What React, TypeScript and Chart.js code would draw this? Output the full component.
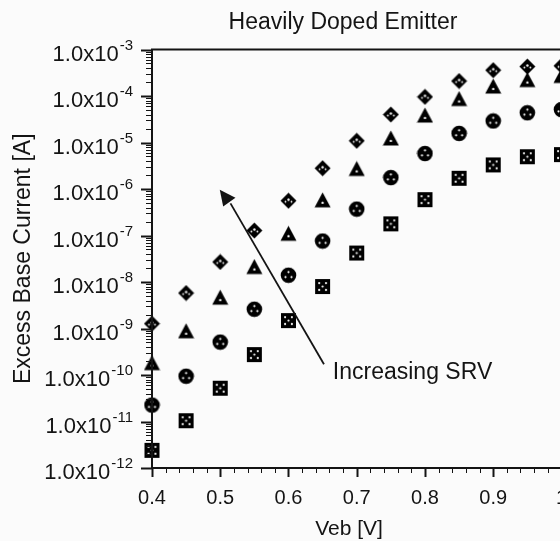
import React, { useEffect, useRef } from 'react';
import { Chart, registerables } from 'chart.js';

Chart.register(...registerables);

const FONT = '"Liberation Sans", Arial, Helvetica, sans-serif';
const INK = '#141414';
const BG = '#fbfbfb';
const CANVAS_W = 585;
const CANVAS_H = 541;

const chartTitle = 'Heavily Doped Emitter';
const xAxisTitle = 'Veb [V]';
const yAxisTitle = 'Excess Base Current [A]';
const annotationText = 'Increasing SRV';

// Emitter-base voltage (V)
const vebVolts = [0.4, 0.45, 0.5, 0.55, 0.6, 0.65, 0.7, 0.75, 0.8, 0.85, 0.9, 0.95, 1.0];

// Excess base current (A), highest SRV (top) to lowest SRV (bottom)
const srv4Current = [1.27e-9, 5.8e-9, 2.7e-8, 1.28e-7, 5.6e-7, 2.8e-6, 1.09e-5, 4.0e-5, 9.6e-5, 2.1e-4, 3.6e-4, 4.3e-4, 4.45e-4];
const srv3Current = [1.8e-10, 8.7e-10, 4.6e-9, 2.1e-8, 1.09e-7, 5.7e-7, 2.7e-6, 1.22e-5, 3.8e-5, 8.6e-5, 1.6e-4, 2.2e-4, 2.7e-4];
const srv2Current = [2.25e-11, 9.4e-11, 5.1e-10, 2.6e-9, 1.4e-8, 7.6e-8, 3.7e-7, 1.76e-6, 5.8e-6, 1.57e-5, 2.9e-5, 4.35e-5, 5.1e-5];
const srv1Current = [2.4e-12, 1.04e-11, 5.2e-11, 2.75e-10, 1.48e-9, 8.0e-9, 4.2e-8, 1.78e-7, 5.9e-7, 1.7e-6, 3.3e-6, 4.95e-6, 5.5e-6];

const xTickValues = [0.4, 0.5, 0.6, 0.7, 0.8, 0.9, 1.0];
const xTickLabels = ['0.4', '0.5', '0.6', '0.7', '0.8', '0.9', '1'];
const yTickExponents = [-3, -4, -5, -6, -7, -8, -9, -10, -11, -12];
const yTickBase = '1.0x10';

// Annotation arrow (data coordinates)
const arrowTail = { x: 0.652, y: 1.7e-10 };
const arrowTip = { x: 0.515, y: 4.9e-7 };
const labelAnchor = { x: 0.665, y: 1.1e-10 };

type MarkerKind = 'diamond' | 'triangle' | 'circle' | 'square';

function makeMarker(kind: MarkerKind): HTMLCanvasElement {
  const s = 17;
  const c = document.createElement('canvas');
  c.width = s;
  c.height = s;
  const g = c.getContext('2d')!;
  const m = s / 2;
  g.fillStyle = '#000';
  const hole = (x: number, y: number, r: number) => {
    g.save();
    g.fillStyle = BG;
    g.beginPath();
    g.arc(x, y, r, 0, Math.PI * 2);
    g.fill();
    g.restore();
  };
  if (kind === 'diamond') {
    g.beginPath();
    g.moveTo(m, 0.5);
    g.lineTo(s - 0.5, m);
    g.lineTo(m, s - 0.5);
    g.lineTo(0.5, m);
    g.closePath();
    g.fill();
    hole(m, m - 1, 1.2);
    hole(m - 3, m + 1, 0.9);
    hole(m + 3, m + 1, 0.9);
  } else if (kind === 'triangle') {
    g.beginPath();
    g.moveTo(m, 0.5);
    g.lineTo(s - 0.5, s - 1.5);
    g.lineTo(0.5, s - 1.5);
    g.closePath();
    g.fill();
    hole(m, s * 0.64, 1.2);
  } else if (kind === 'circle') {
    g.beginPath();
    g.arc(m, m, 7.8, 0, Math.PI * 2);
    g.fill();
    hole(m, m - 3.2, 1.1);
    hole(m - 3, m + 1.8, 1.1);
    hole(m + 3, m + 1.8, 1.1);
  } else {
    g.fillRect(1, 1, s - 2, s - 2);
    hole(m - 3.4, m - 3.4, 1.1);
    hole(m + 3.4, m - 3.4, 1.1);
    hole(m - 3.4, m + 3.4, 1.1);
    hole(m + 3.4, m + 3.4, 1.1);
    hole(m, m, 1.1);
  }
  return c;
}

const decorPlugin = {
  id: 'decor',
  beforeDraw(chart: any) {
    const { ctx, width, height } = chart;
    ctx.save();
    ctx.fillStyle = BG;
    ctx.fillRect(0, 0, width, height);
    ctx.restore();
  },
  afterDraw(chart: any) {
    const { ctx, chartArea: a, scales } = chart;
    const xs = scales.x;
    const ys = scales.y;
    ctx.save();
    ctx.strokeStyle = INK;
    ctx.fillStyle = INK;

    // frame
    ctx.lineWidth = 2;
    ctx.strokeRect(a.left, a.top, a.right - a.left, a.bottom - a.top);

    // y ticks (major + log minor)
    yTickExponents.forEach((e) => {
      for (let k = 1; k <= 9; k++) {
        const v = k * Math.pow(10, e);
        if (v > ys.max * 1.0000001 || v < ys.min * 0.9999999) continue;
        const p = Math.round(ys.getPixelForValue(v)) + 0.5;
        const major = k === 1;
        ctx.lineWidth = major ? 2 : 1;
        ctx.beginPath();
        ctx.moveTo(a.left - (major ? 11 : 6), p);
        ctx.lineTo(a.left, p);
        ctx.stroke();
      }
    });

    // x ticks
    xs.ticks.forEach((t: any) => {
      const p = Math.round(xs.getPixelForValue(t.value)) + 0.5;
      const major = xTickValues.some((v) => Math.abs(v - t.value) < 1e-6);
      ctx.lineWidth = major ? 2 : 1;
      ctx.beginPath();
      ctx.moveTo(p, a.bottom);
      ctx.lineTo(p, a.bottom + (major ? 9 : 5));
      ctx.stroke();
    });

    // y tick labels with superscript exponents
    ctx.textAlign = 'left';
    ctx.textBaseline = 'middle';
    yTickExponents.forEach((e) => {
      const p = ys.getPixelForValue(Math.pow(10, e));
      const sup = String(e);
      ctx.font = `22px ${FONT}`;
      const wb = ctx.measureText(yTickBase).width;
      ctx.font = `15px ${FONT}`;
      const ws = ctx.measureText(sup).width;
      const right = a.left - 19;
      const x0 = right - ws - wb - 1;
      ctx.font = `22px ${FONT}`;
      ctx.fillText(yTickBase, x0, p + 5);
      ctx.font = `15px ${FONT}`;
      ctx.fillText(sup, x0 + wb + 1, p - 4);
    });

    // chart title and x-axis title
    ctx.textAlign = 'center';
    ctx.font = `23px ${FONT}`;
    ctx.fillText(chartTitle, 343, 23);
    ctx.font = `21px ${FONT}`;
    ctx.fillText(xAxisTitle, 349, 529);

    // annotation arrow
    const tx = xs.getPixelForValue(arrowTail.x);
    const ty = ys.getPixelForValue(arrowTail.y);
    const hx = xs.getPixelForValue(arrowTip.x);
    const hy = ys.getPixelForValue(arrowTip.y);
    ctx.lineWidth = 1.8;
    ctx.beginPath();
    ctx.moveTo(tx, ty);
    ctx.lineTo(hx, hy);
    ctx.stroke();
    ctx.beginPath();
    ctx.moveTo(hx - 10.7, hy - 13.7);
    ctx.lineTo(hx + 5, hy - 5.7);
    ctx.lineTo(hx - 7.3, hy + 3);
    ctx.closePath();
    ctx.fill();

    // annotation label
    ctx.textAlign = 'left';
    ctx.textBaseline = 'middle';
    ctx.font = `23px ${FONT}`;
    ctx.fillText(annotationText, xs.getPixelForValue(labelAnchor.x), ys.getPixelForValue(labelAnchor.y));

    ctx.restore();
  },
};

export default function App() {
  const canvasRef = useRef<HTMLCanvasElement | null>(null);

  useEffect(() => {
    document.body.style.overflow = 'hidden';
    const canvas = canvasRef.current;
    if (!canvas) return;
    const series: { label: string; values: number[]; kind: MarkerKind }[] = [
      { label: 'SRV 1', values: srv1Current, kind: 'square' },
      { label: 'SRV 2', values: srv2Current, kind: 'circle' },
      { label: 'SRV 3', values: srv3Current, kind: 'triangle' },
      { label: 'SRV 4', values: srv4Current, kind: 'diamond' },
    ];
    const chart = new Chart(canvas, {
      type: 'scatter',
      data: {
        datasets: series.map((s) => ({
          label: s.label,
          data: vebVolts.map((x, i) => ({ x, y: s.values[i] })),
          pointStyle: makeMarker(s.kind),
          pointRadius: 8,
          showLine: false,
          clip: false,
          backgroundColor: INK,
          borderColor: INK,
        })),
      },
      options: {
        responsive: false,
        animation: false,
        devicePixelRatio: 1,
        layout: { padding: { top: 49.5, right: 0, bottom: 0, left: 0 } },
        plugins: {
          legend: { display: false },
          tooltip: { enabled: false },
          title: { display: false },
        },
        scales: {
          x: {
            type: 'linear',
            min: 0.4,
            max: 1.0,
            grid: { display: false, drawTicks: false },
            border: { display: false },
            ticks: {
              stepSize: 0.02,
              autoSkip: false,
              maxRotation: 0,
              minRotation: 0,
              padding: 18,
              color: INK,
              font: { family: FONT, size: 20 },
              callback: (value: any) => {
                const i = xTickValues.findIndex((v) => Math.abs(v - Number(value)) < 1e-6);
                return i >= 0 ? xTickLabels[i] : '';
              },
            },
            title: { display: false },
            afterFit: (s: any) => {
              s.height = 73;
            },
          },
          y: {
            type: 'logarithmic',
            min: 1e-12,
            max: 1e-3,
            grid: { display: false, drawTicks: false },
            border: { display: false },
            ticks: { display: false },
            title: {
              display: true,
              text: yAxisTitle,
              color: INK,
              font: { family: FONT, size: 23 },
              padding: { top: 10, bottom: 0 },
            },
            afterFit: (s: any) => {
              s.width = 152;
            },
          },
        },
      } as any,
      plugins: [decorPlugin],
    });
    return () => chart.destroy();
  }, []);

  return (
    <div style={{ position: 'fixed', left: 0, top: 0, width: CANVAS_W, height: CANVAS_H, background: BG }}>
      <canvas
        ref={canvasRef}
        width={CANVAS_W}
        height={CANVAS_H}
        style={{ width: CANVAS_W, height: CANVAS_H, display: 'block' }}
      />
    </div>
  );
}
